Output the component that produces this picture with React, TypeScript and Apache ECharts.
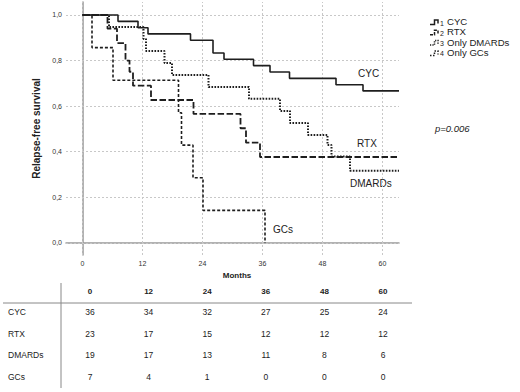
import React, { useEffect, useRef } from "react";
import * as echarts from "echarts";

const xTicks = [0, 12, 24, 36, 48, 60];
const yTicks = [0, 0.2, 0.4, 0.6, 0.8, 1.0];

const cycTimes = [0, 7.1, 11.1, 13.1, 21.6, 26.1, 28.3, 34.2, 37.5, 41.4, 50.7, 56.1, 63.3];
const cycSurv = [1, 0.972, 0.944, 0.917, 0.889, 0.833, 0.806, 0.778, 0.75, 0.722, 0.694, 0.667, 0.667];

const rtxTimes = [0, 5.0, 6.9, 8.6, 9.4, 10.1, 13.7, 22.2, 31.6, 32.7, 35.5, 63.3];
const rtxSurv = [1, 0.94, 0.877, 0.8, 0.751, 0.69, 0.627, 0.566, 0.503, 0.44, 0.377, 0.377];

const dmTimes = [0, 5.3, 12.2, 12.7, 16.4, 17.9, 25.2, 33.3, 39.5, 41.5, 45.1, 49.0, 49.8, 53.5, 63.3];
const dmSurv = [1, 0.947, 0.895, 0.842, 0.789, 0.737, 0.684, 0.632, 0.579, 0.526, 0.474, 0.43, 0.379, 0.317, 0.317];

const gcTimes = [0, 1.9, 6.1, 19.2, 19.8, 22.1, 24.1, 36.5];
const gcSurv = [1, 0.857, 0.714, 0.571, 0.429, 0.286, 0.143, 0];

const legendNames = ["CYC", "RTX", "Only DMARDs", "Only GCs"];
const curveLabels = ["CYC", "RTX", "DMARDs", "GCs"];

const tableTimes = ["0", "12", "24", "36", "48", "60"];
const tableRows = ["CYC", "RTX", "DMARDs", "GCs"];
const atRiskCYC = [36, 34, 32, 27, 25, 24];
const atRiskRTX = [23, 17, 15, 12, 12, 12];
const atRiskDM = [19, 17, 13, 11, 8, 6];
const atRiskGC = [7, 4, 1, 0, 0, 0];

const FONT = "'Liberation Sans', Arial, sans-serif";

const dashStyles: any[] = ["solid", [6.5, 2.5], [1.6, 1.4], [3, 2]];
const legendDash: any[] = [null, [3, 1.2], [1.2, 1.2], [1.5, 1.5]];
const lineWidths = [1.6, 1.8, 2, 1.6];
const lineColor = "#1e1e1e";

function zip(t: number[], s: number[]) {
  return t.map((v, i) => [v, s[i]]);
}

export default function App() {
  const ref = useRef<HTMLDivElement>(null);
  useEffect(() => {
    if (!ref.current) return;
    const chart = echarts.init(ref.current, null, { renderer: "svg" });
    const seriesData = [zip(cycTimes, cycSurv), zip(rtxTimes, rtxSurv), zip(dmTimes, dmSurv), zip(gcTimes, gcSurv)];

    const gridLineStyle = { color: "#c8c8c8", type: [2, 2] as any, width: 1 };
    const gridMarks: any[] = [];
    xTicks.forEach((v) => gridMarks.push({ xAxis: v, lineStyle: gridLineStyle }));
    yTicks.forEach((v) => gridMarks.push({ yAxis: v, lineStyle: gridLineStyle }));

    const series: any[] = [
      {
        type: "line",
        data: [],
        silent: true,
        markLine: {
          silent: true,
          symbol: "none",
          label: { show: false },
          lineStyle: gridLineStyle,
          data: gridMarks,
          animation: false,
        },
      },
    ];
    seriesData.forEach((d, i) => {
      series.push({
        type: "line",
        name: legendNames[i],
        step: "end",
        data: d,
        symbol: "none",
        lineStyle: { color: lineColor, width: lineWidths[i], type: dashStyles[i] },
        z: 5,
      });
    });

    const graphics: any[] = [];
    // legend
    const legY = [21.5, 31.8, 42.1, 52.4];
    legendNames.forEach((n, i) => {
      const y = legY[i];
      graphics.push({
        type: "polyline",
        shape: { points: [[430, y + 3], [434.5, y + 3], [434.5, y - 1.5], [438, y - 1.5], [438, y + 2]] },
        style: { stroke: lineColor, lineWidth: 1.5, fill: null, lineDash: legendDash[i] },
      });
      graphics.push({
        type: "text",
        x: 440,
        y: y + 1.5,
        style: { text: String(i + 1), font: `7px ${FONT}`, fill: "#222", verticalAlign: "middle" },
      });
      graphics.push({
        type: "text",
        x: 447,
        y: y,
        style: { text: n, font: `9.6px ${FONT}`, fill: "#222", verticalAlign: "middle" },
      });
    });
    // p value
    graphics.push({
      type: "text",
      x: 435,
      y: 128,
      style: { text: "p=0.006", font: `italic 9.5px ${FONT}`, fill: "#222", verticalAlign: "middle" },
    });
    // curve labels
    const labPos = [[358, 73], [357, 143], [350, 183], [273, 229]];
    curveLabels.forEach((t, i) => {
      graphics.push({
        type: "text",
        x: labPos[i][0],
        y: labPos[i][1],
        style: { text: t, font: `10px ${FONT}`, fill: "#222", verticalAlign: "middle" },
      });
    });
    // table
    const colX = tableTimes.map((_, i) => 90 + 58.6 * i);
    const rowY = [312, 333.5, 355, 377];
    const rowsData = [atRiskCYC, atRiskRTX, atRiskDM, atRiskGC];
    graphics.push({
      type: "text",
      x: 237,
      y: 275,
      style: { text: "Months", font: `bold 8px ${FONT}`, fill: "#222", align: "center", verticalAlign: "middle" },
    });
    tableTimes.forEach((t, i) => {
      graphics.push({
        type: "text",
        x: colX[i],
        y: 291,
        style: { text: t, font: `bold 8px ${FONT}`, fill: "#222", align: "center", verticalAlign: "middle" },
      });
    });
    graphics.push({ type: "line", shape: { x1: 3, y1: 303, x2: 412, y2: 303 }, style: { stroke: "#888", lineWidth: 1 } });
    graphics.push({ type: "line", shape: { x1: 61, y1: 283, x2: 61, y2: 388 }, style: { stroke: "#888", lineWidth: 1 } });
    tableRows.forEach((r, ri) => {
      graphics.push({
        type: "text",
        x: 8,
        y: rowY[ri],
        style: { text: r, font: `8.5px ${FONT}`, fill: "#222", verticalAlign: "middle" },
      });
      rowsData[ri].forEach((v, ci) => {
        graphics.push({
          type: "text",
          x: colX[ci],
          y: rowY[ri],
          style: { text: String(v), font: `8.5px ${FONT}`, fill: "#222", align: "center", verticalAlign: "middle" },
        });
      });
    });

    chart.setOption({
      animation: false,
      backgroundColor: "#ffffff",
      grid: { left: 66, top: 2, right: 121, bottom: 137, containLabel: false },
      xAxis: {
        type: "value",
        min: -3.3,
        max: 63.3,
        axisLine: { show: true, lineStyle: { color: "#999", width: 1.5 } },
        axisTick: { show: false },
        splitLine: { show: false },
        axisLabel: {
          customValues: xTicks,
          fontSize: 7,
          fontFamily: FONT,
          color: "#333",
          margin: 5,
        },
      },
      yAxis: {
        type: "value",
        min: -0.053,
        max: 1.057,
        name: "Relapse-free survival",
        nameLocation: "middle",
        nameGap: 22,
        nameTextStyle: { fontSize: 10, fontWeight: "bold", fontFamily: FONT, color: "#222" },
        axisLine: { show: true, lineStyle: { color: "#999", width: 1.5 } },
        axisTick: { show: false },
        splitLine: { show: false },
        axisLabel: {
          customValues: yTicks,
          fontSize: 7,
          fontFamily: FONT,
          color: "#333",
          margin: 4,
          formatter: (v: number) => v.toFixed(1).replace(".", ","),
        },
      },
      series,
      graphic: graphics,
    });
    return () => chart.dispose();
  }, []);
  return <div ref={ref} style={{ position: "fixed", left: 0, top: 0, width: 520, height: 392, background: "#fff" }} />;
}
